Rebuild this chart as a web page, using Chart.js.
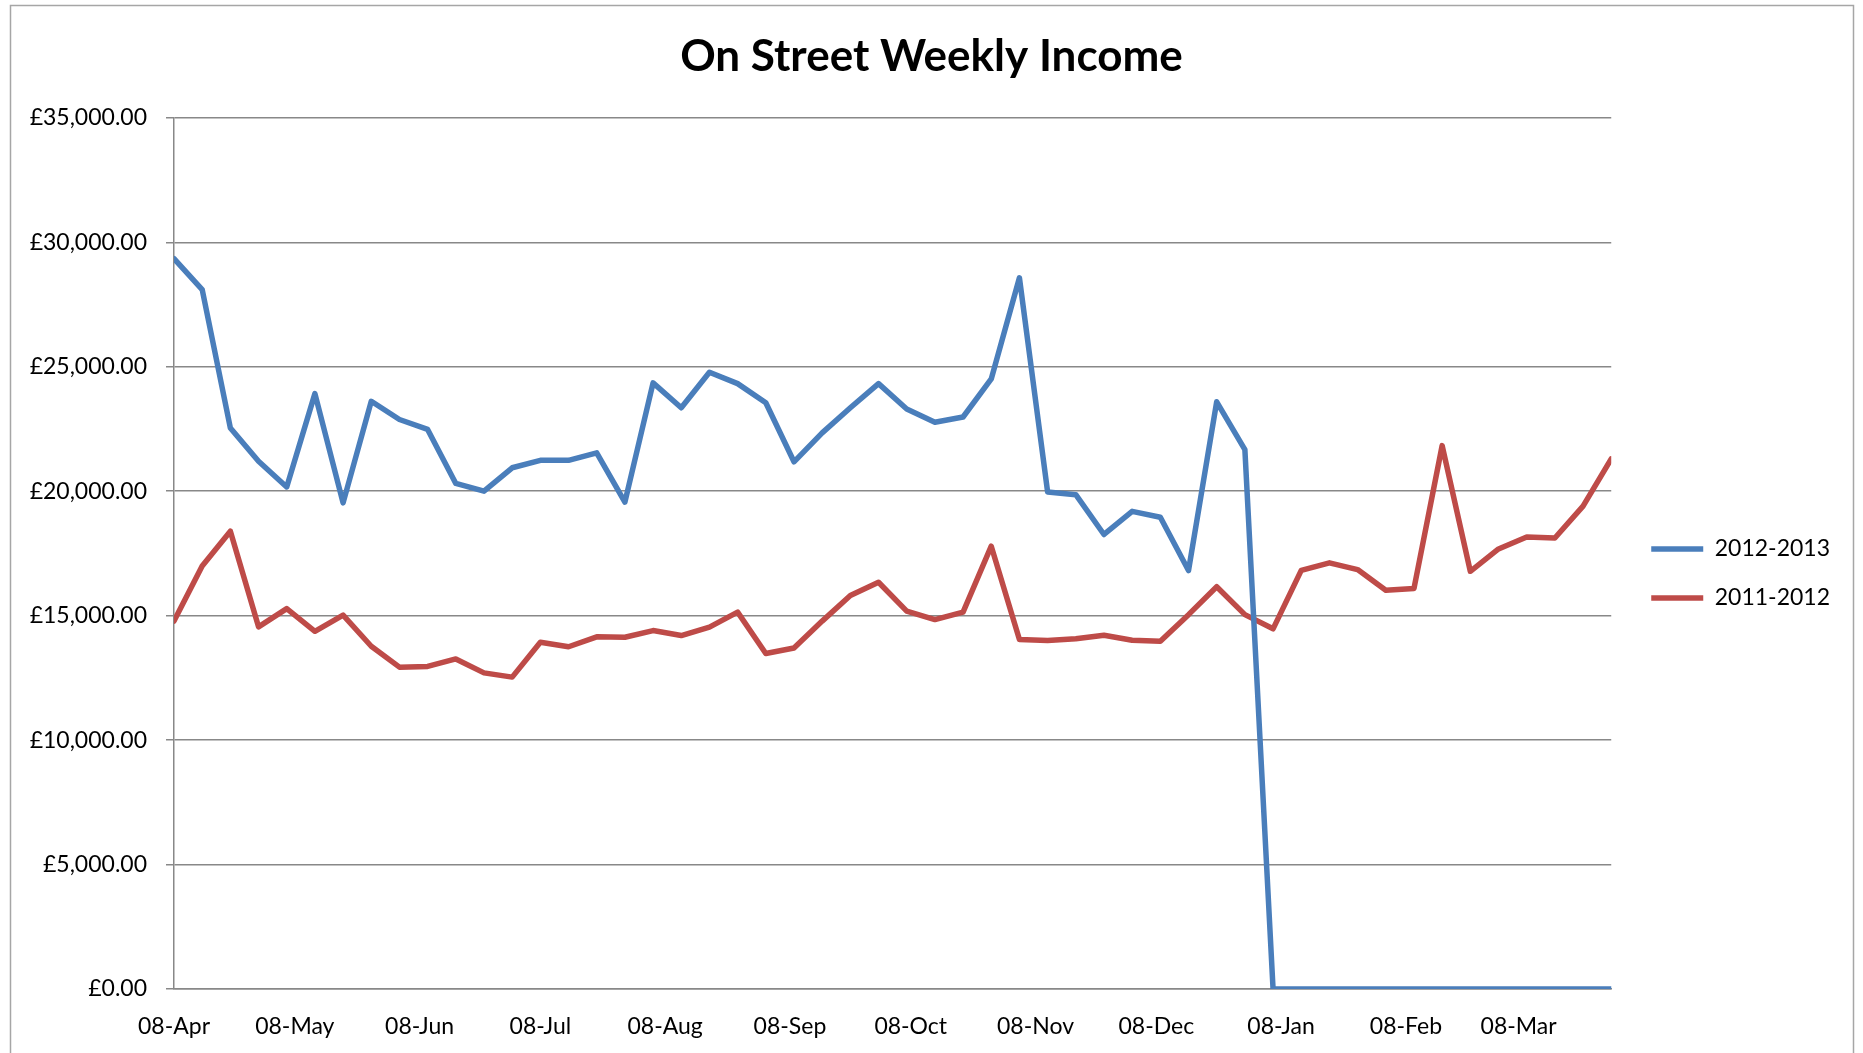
<!DOCTYPE html>
<html>
<head>
<meta charset="utf-8">
<script src="https://cdn.jsdelivr.net/npm/chart.js@4.4.1/dist/chart.umd.min.js"></script>
<style>
html,body{margin:0;padding:0;background:#fff;overflow:hidden}
#wrap{width:1863px;height:1053px;position:relative}
</style>
</head>
<body>
<div id="wrap"><canvas id="c" width="1863" height="1053"></canvas></div>
<script>
const chartTitle = 'On Street Weekly Income';
const seriesNames = ['2012-2013', '2011-2012'];

// Week commencing dates (categories)
const weekDates = [
  '2012-04-08','2012-04-15','2012-04-22','2012-04-29',
  '2012-05-06','2012-05-13','2012-05-20','2012-05-27',
  '2012-06-03','2012-06-10','2012-06-17','2012-06-24',
  '2012-07-01','2012-07-08','2012-07-15','2012-07-22','2012-07-29',
  '2012-08-05','2012-08-12','2012-08-19','2012-08-26',
  '2012-09-02','2012-09-09','2012-09-16','2012-09-23','2012-09-30',
  '2012-10-07','2012-10-14','2012-10-21','2012-10-28',
  '2012-11-04','2012-11-11','2012-11-18','2012-11-25',
  '2012-12-02','2012-12-09','2012-12-16','2012-12-23','2012-12-30',
  '2013-01-06','2013-01-13','2013-01-20','2013-01-27',
  '2013-02-03','2013-02-10','2013-02-17','2013-02-24',
  '2013-03-03','2013-03-10','2013-03-17','2013-03-24','2013-03-31'
];

const income2012_13 = [
  29340, 28100, 22540, 21200, 20170, 23920, 19530, 23610, 22880, 22480,
  20310, 20000, 20940, 21240, 21240, 21540, 19560, 24350, 23350, 24780,
  24320, 23550, 21180, 22340, 23350, 24320, 23300, 22770, 22980, 24510,
  28570, 19970, 19860, 18260, 19190, 18950, 16810, 23590, 21670, 0,
  0, 0, 0, 0, 0, 0, 0, 0, 0, 0,
  0, 0
];

const income2011_12 = [
  14780, 16990, 18390, 14550, 15280, 14370, 15020, 13770, 12930, 12960,
  13260, 12700, 12530, 13930, 13750, 14150, 14130, 14400, 14200, 14540,
  15140, 13480, 13700, 14780, 15810, 16340, 15180, 14840, 15140, 17790,
  14040, 14000, 14070, 14210, 14010, 13970, 15040, 16160, 15040, 14470,
  16820, 17120, 16850, 16020, 16090, 21830, 16780, 17680, 18160, 18120,
  19400, 21300
];

// X axis tick dates and labels
const tickDates = [
  '2012-04-08','2012-05-08','2012-06-08','2012-07-08','2012-08-08','2012-09-08',
  '2012-10-08','2012-11-08','2012-12-08','2013-01-08','2013-02-08','2013-03-08'
];
const tickLabels = ['08-Apr','08-May','08-Jun','08-Jul','08-Aug','08-Sep',
  '08-Oct','08-Nov','08-Dec','08-Jan','08-Feb','08-Mar'];

const yTicks = [0, 5000, 10000, 15000, 20000, 25000, 30000, 35000];

const t0 = Date.parse(weekDates[0] + 'T00:00:00Z');
const toDay = s => (Date.parse(s + 'T00:00:00Z') - t0) / 86400000;
const toPoints = vals => vals.map((v, i) => ({x: toDay(weekDates[i]), y: v}));

function gbp(v) {
  const fixed = Number(v).toFixed(2);
  const [ip, dp] = fixed.split('.');
  return '\u00A3' + ip.replace(/\B(?=(\d{3})+(?!\d))/g, ',') + '.' + dp;
}

const FONT = 'Lato, "Open Sans", "DejaVu Sans", sans-serif';
const GRID = '#888888';
const SIDE_PAD = 23;

const framePlugin = {
  id: 'frame',
  beforeDraw(chart) {
    const c = chart.ctx;
    c.save();
    c.fillStyle = '#ffffff';
    c.fillRect(0, 0, chart.width, chart.height);
    c.strokeStyle = '#a6a6a6';
    c.lineWidth = 1.5;
    c.strokeRect(10.5, 5.5, 1843, 1100);
    c.restore();
  }
};

new Chart(document.getElementById('c').getContext('2d'), {
  type: 'line',
  data: {
    datasets: [
      {
        label: seriesNames[0],
        data: toPoints(income2012_13),
        borderColor: '#4a7ebb',
        backgroundColor: '#4a7ebb',
        borderWidth: 5.5,
        pointRadius: 0,
        borderJoinStyle: 'round',
        borderCapStyle: 'round',
        tension: 0,
        fill: false
      },
      {
        label: seriesNames[1],
        data: toPoints(income2011_12),
        borderColor: '#be4b48',
        backgroundColor: '#be4b48',
        borderWidth: 5.5,
        pointRadius: 0,
        borderJoinStyle: 'round',
        borderCapStyle: 'round',
        tension: 0,
        fill: false
      }
    ]
  },
  options: {
    responsive: false,
    animation: false,
    devicePixelRatio: 1,
    layout: {padding: {left: SIDE_PAD, right: SIDE_PAD, top: 0, bottom: 0}},
    plugins: {
      title: {
        display: true,
        text: chartTitle,
        color: '#000',
        font: {family: FONT, size: 44, weight: 'bold'},
        padding: {top: 30, bottom: 35}
      },
      legend: {
        position: 'right',
        title: {display: true, text: ' ', font: {size: 10}, padding: {top: 0, bottom: 82}},
        labels: {
          usePointStyle: true,
          pointStyle: 'line',
          pointStyleWidth: 52,
          padding: 26,
          color: '#000',
          font: {family: FONT, size: 23}
        }
      },
      tooltip: {enabled: false}
    },
    scales: {
      x: {
        type: 'linear',
        min: 0,
        max: toDay(weekDates[weekDates.length - 1]),
        grid: {display: false, drawTicks: false},
        border: {display: true, color: GRID, width: 1.5},
        afterBuildTicks: s => { s.ticks = tickDates.map(d => ({value: toDay(d)})); },
        ticks: {
          autoSkip: false,
          maxRotation: 0,
          minRotation: 0,
          padding: 24,
          color: '#000',
          font: {family: FONT, size: 23},
          callback: (v, i) => tickLabels[i]
        },
        afterFit: s => { s.height = 64; }
      },
      y: {
        min: 0,
        max: 35000,
        afterBuildTicks: s => { s.ticks = yTicks.map(v => ({value: v})); },
        ticks: {
          padding: 19,
          color: '#000',
          font: {family: FONT, size: 23},
          callback: v => gbp(v)
        },
        grid: {color: GRID, lineWidth: 1.5, drawTicks: true, tickLength: 8},
        border: {display: true, color: GRID, width: 1.5},
        afterFit: s => { s.width = 174 - SIDE_PAD; }
      },
      pad: {
        type: 'linear',
        position: 'right',
        display: true,
        grid: {display: false, drawTicks: false},
        border: {display: false},
        ticks: {display: false},
        afterFit: s => { s.width = 14; }
      }
    }
  },
  plugins: [framePlugin]
});
</script>
</body>
</html>
